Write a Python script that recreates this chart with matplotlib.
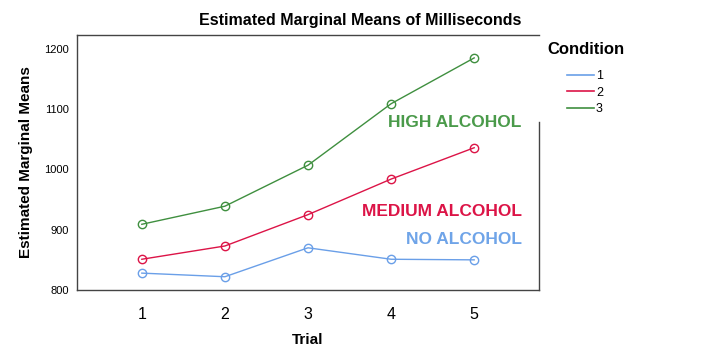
import matplotlib
matplotlib.use("Agg")
import matplotlib.pyplot as plt
from matplotlib.lines import Line2D

plt.rcParams["font.family"] = ["Liberation Sans", "DejaVu Sans"]

# Valeurs
essais = [1, 2, 3, 4, 5]
conditions = ["1", "2", "3"]
sans_alcool = [828, 822, 870, 851, 850]
alcool_moyen = [851, 873, 925, 984, 1036]
alcool_fort = [909, 939, 1007, 1109, 1185]
etiquettes = ["NO ALCOHOL", "MEDIUM ALCOHOL", "HIGH ALCOHOL"]

couleurs = ["#6a9fe8", "#dc1447", "#3f8f3f"]
couleurs_texte = ["#6fa4e8", "#dc1447", "#4a9a4a"]
series = [sans_alcool, alcool_moyen, alcool_fort]

fig = plt.figure(figsize=(7.2, 3.6), dpi=100)
ax = fig.add_axes([77 / 720, 1 - 290 / 360, (539 - 77) / 720, (290 - 35) / 360])

for valeurs, coul in zip(series, couleurs):
    ax.plot(essais, valeurs, color=coul, lw=1, marker="o", ms=6,
            mfc="none", mec=coul, mew=1)

ax.set_xlim(0.22, 5.78)
ax.set_ylim(800, 1223)
ax.set_yticks([800, 900, 1000, 1100, 1200])
ax.set_xticks(essais)
ax.tick_params(axis="y", length=0, labelsize=8, pad=6)
ax.tick_params(axis="x", length=0, labelsize=11.5, pad=12)
for cote in ax.spines.values():
    cote.set_color("#444444")
    cote.set_linewidth(1)
ax.spines["right"].set_bounds(800, 1079)

# titre centré sur la figure
fig.text(0.5, 1 - 21 / 360, "Estimated Marginal Means of Milliseconds",
         fontsize=11.5, fontweight="bold", ha="center", va="center")
ax.set_xlabel("Trial", fontsize=11, fontweight="bold", labelpad=8)
ax.set_ylabel("Estimated Marginal Means", fontsize=11, fontweight="bold",
              labelpad=8)

# étiquettes des conditions dans le graphique
positions_y = [883, 930, 1078]
for texte, coul, y in zip(etiquettes, couleurs_texte, positions_y):
    ax.text(5.57, y, texte, color=coul, fontsize=12.5, fontweight="bold",
            ha="right", va="center")

# légende
fig.text(547 / 720, 1 - 50 / 360, "Condition", fontsize=12,
         fontweight="bold", va="center")
poignees = [Line2D([], [], color=c, lw=1.2) for c in couleurs]
fig.legend(poignees, conditions, loc="upper left",
           bbox_to_anchor=(561 / 720, 1 - 64 / 360), frameon=False,
           fontsize=9, handlelength=2.1, handletextpad=0.2,
           labelspacing=0.35, borderpad=0)

fig.savefig("out.png")
